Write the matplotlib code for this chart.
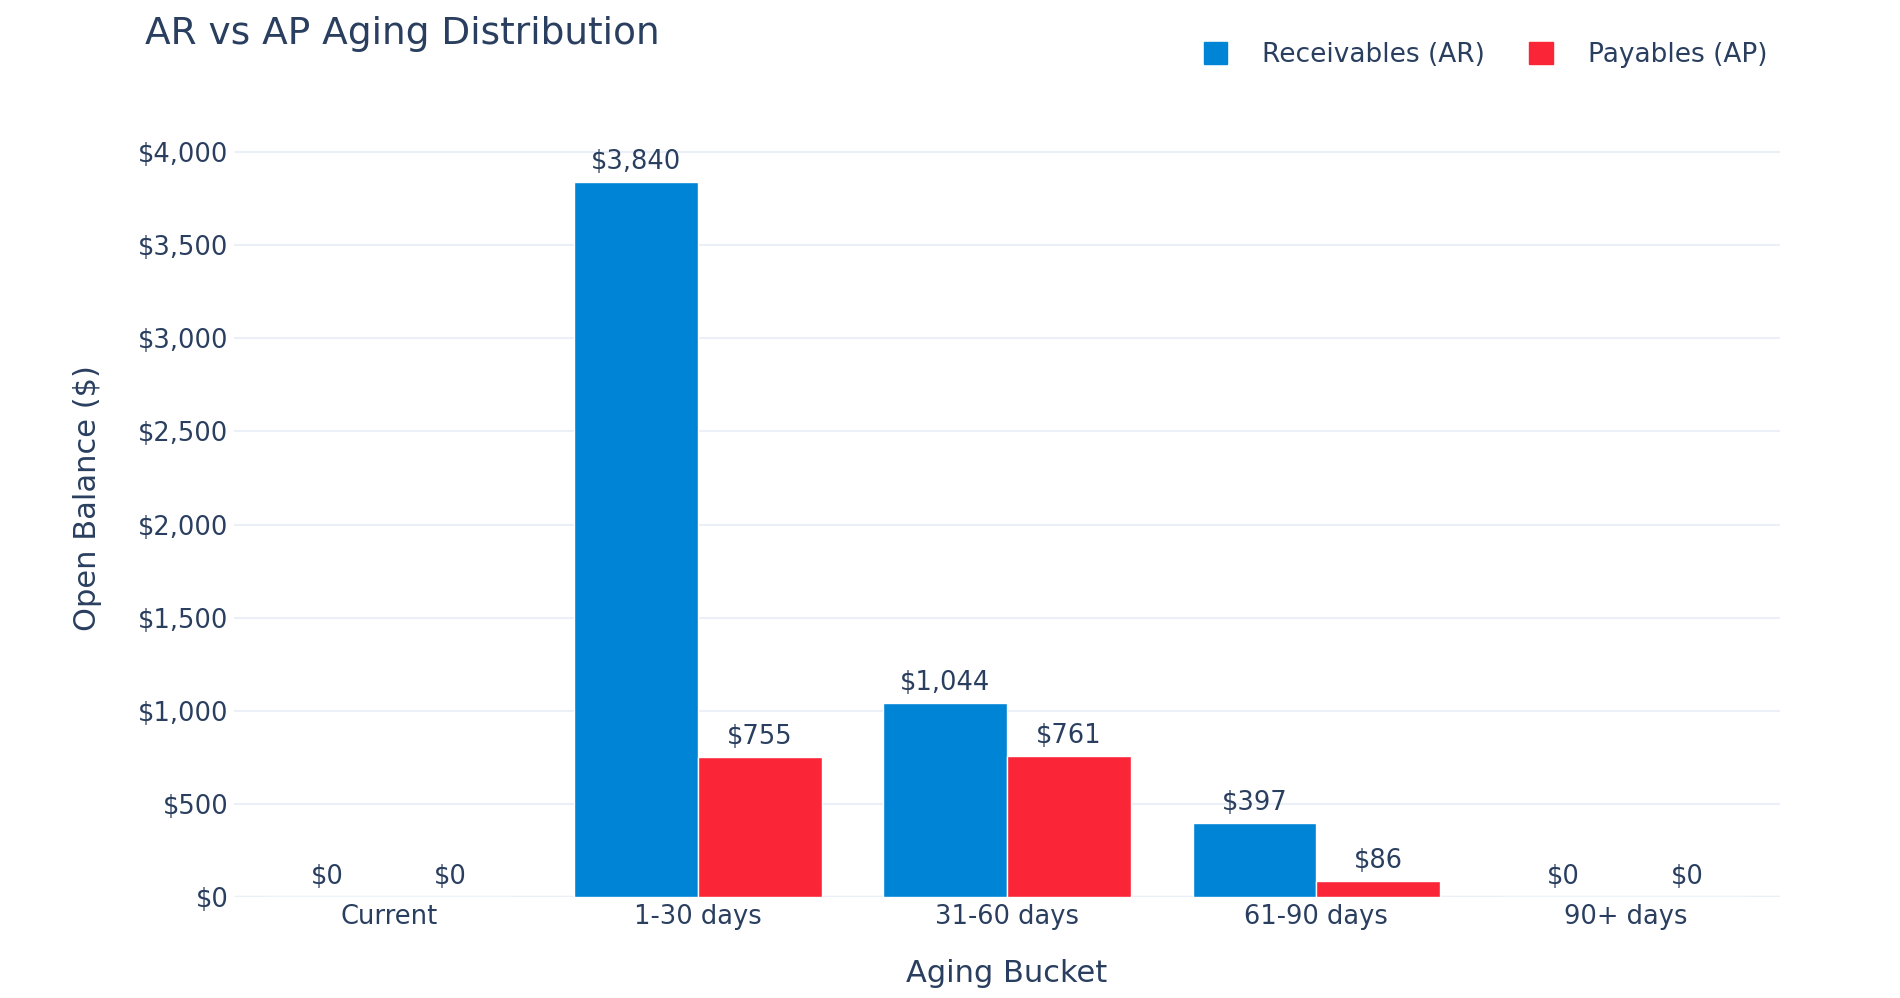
import matplotlib
matplotlib.use("Agg")
import matplotlib.pyplot as plt
import numpy as np
from matplotlib.ticker import FuncFormatter, FixedLocator
from matplotlib.patches import Patch

categories = ["Current", "1-30 days", "31-60 days", "61-90 days", "90+ days"]
ar_values = [0, 3840, 1044, 397, 0]
ap_values = [0, 755, 761, 86, 0]
series_names = ["Receivables (AR)", "Payables (AP)"]
y_ticks = [0, 500, 1000, 1500, 2000, 2500, 3000, 3500, 4000]

TEXT = "#2a3f5f"
GRID = "#EBF0F8"
BLUE = "#0084D5"
RED = "#FA2537"

plt.rcParams["font.family"] = ["DejaVu Sans"]

fig = plt.figure(figsize=(19, 9.98), dpi=100)
ax = fig.add_axes([0.1232, 0.1009, 0.8137, 0.7991])

x = np.arange(len(categories))
w = 0.4
b1 = ax.bar(x - w / 2, ar_values, w, color=BLUE, edgecolor="white", linewidth=1, zorder=3)
b2 = ax.bar(x + w / 2, ap_values, w, color=RED, edgecolor="white", linewidth=1, zorder=3)

for bars, vals in ((b1, ar_values), (b2, ap_values)):
    for rect, v in zip(bars, vals):
        ax.annotate(f"${v:,.0f}", (rect.get_x() + rect.get_width() / 2, v),
                    xytext=(0, 5), textcoords="offset points",
                    ha="center", va="bottom", fontsize=18.5, color=TEXT, zorder=4)

ax.set_xlim(-0.5, len(categories) - 0.5)
ax.set_ylim(0, 4280)
ax.yaxis.set_major_locator(FixedLocator(y_ticks))
ax.yaxis.set_major_formatter(FuncFormatter(lambda v, p: f"${v:,.0f}"))
ax.set_xticks(x)
ax.set_xticklabels(categories)
ax.tick_params(axis="both", length=0, labelsize=18.5, labelcolor=TEXT)
ax.tick_params(axis="y", pad=4)
ax.tick_params(axis="x", pad=5)
ax.grid(axis="y", color=GRID, linewidth=1.5, zorder=0)
ax.axhline(0, color=GRID, linewidth=2.5, zorder=1)
for s in ax.spines.values():
    s.set_visible(False)

ax.set_xlabel("Aging Bucket", fontsize=22, color=TEXT, labelpad=21)
ax.set_ylabel("Open Balance ($)", fontsize=22, color=TEXT, labelpad=26)

fig.text(145 / 1900, 1 - 34 / 998, "AR vs AP Aging Distribution", fontsize=27,
         color=TEXT, ha="left", va="center")

handles = [Patch(facecolor=BLUE, edgecolor=BLUE), Patch(facecolor=RED, edgecolor=RED)]
fig.legend(handles, series_names, loc="center right",
           bbox_to_anchor=(1767 / 1900, 1 - 55 / 998), ncol=2, frameon=False,
           fontsize=19, labelcolor=TEXT, handlelength=0.9, handleheight=0.9,
           handletextpad=1.3, columnspacing=1.7, borderaxespad=0, borderpad=0)

fig.savefig("out.png", dpi=100, facecolor="white")
